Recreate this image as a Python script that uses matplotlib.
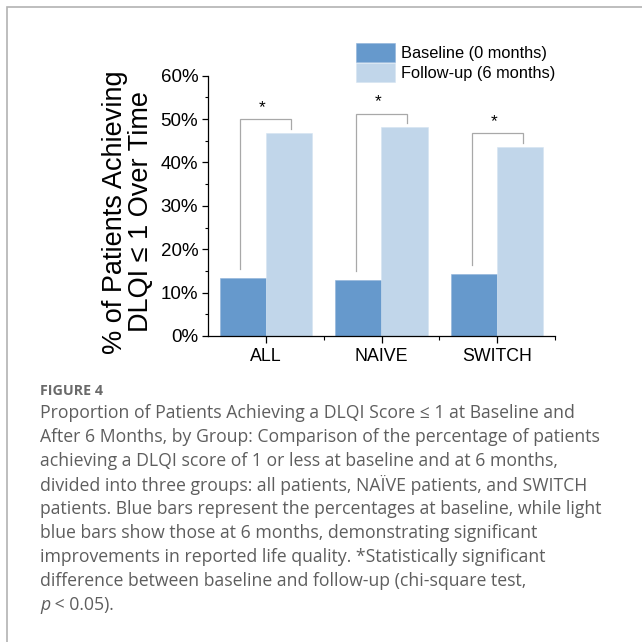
import matplotlib
matplotlib.use("Agg")
import matplotlib.pyplot as plt
from matplotlib.patches import Rectangle
from matplotlib.ticker import MultipleLocator, PercentFormatter
import numpy as np

groups = ["ALL", "NAIVE", "SWITCH"]
baseline = [13.4, 12.9, 14.4]    # % at 0 months
follow_up = [46.9, 48.1, 43.6]   # % at 6 months
series_labels = ["Baseline (0 months)", "Follow-up (6 months)"]
ylabel = "% of Patients Achieving\nDLQI \u2264 1 Over Time"

caption_title = "FIGURE 4"
caption_lines = [
    "Proportion of Patients Achieving a DLQI Score \u2264 1 at Baseline and",
    "After 6 Months, by Group: Comparison of the percentage of patients",
    "achieving a DLQI score of 1 or less at baseline and at 6 months,",
    "divided into three groups: all patients, NA\u00cfVE patients, and SWITCH",
    "patients. Blue bars represent the percentages at baseline, while light",
    "blue bars show those at 6 months, demonstrating significant",
    "improvements in reported life quality. *Statistically significant",
    "difference between baseline and follow-up (chi-square test,",
]
caption_last = " < 0.05)."

C_BASE = "#6699cc"
C_FOLLOW = "#c1d6ea"
C_BRACKET = "#a8a8a8"
C_CAPTION = "#5e5e5e"

plt.rcParams["font.family"] = ["Liberation Sans", "DejaVu Sans"]

fig = plt.figure(figsize=(6.42, 6.42), dpi=100)
W = H = 642.0

# outer panel frame (runs off the right and bottom edges)
fig.patches.append(Rectangle((7 / W, -0.1), 1.2, 1 - 7 / H + 0.1,
                             transform=fig.transFigure, fill=False,
                             edgecolor="#b3b3b3", linewidth=1.2))

ax = fig.add_axes([208 / W, 1 - 336 / H, (555 - 208) / W, (336 - 75.7) / H])

x = np.arange(len(groups))
bw = 0.4
ax.bar(x - bw / 2, baseline, bw, color=C_BASE, edgecolor="#8fb3da",
       linewidth=0.4, label=series_labels[0])
ax.bar(x + bw / 2, follow_up, bw, color=C_FOLLOW, edgecolor="#d6e4f2",
       linewidth=0.4, label=series_labels[1])

# significance brackets
for xi, b, f in zip(x, baseline, follow_up):
    top = f + 3.1
    xl, xr = xi - 0.22, xi + 0.22
    ax.plot([xl, xl, xr, xr], [b + 2.0, top, top, f + 0.9],
            color=C_BRACKET, linewidth=0.9, solid_joinstyle="miter")
    ax.text(xi - 0.03, top + 1.0, "*", ha="center", va="bottom", fontsize=12.5)

ax.set_xlim(-0.5, 2.5)
ax.set_ylim(0, 60)
ax.yaxis.set_major_locator(MultipleLocator(10))
ax.yaxis.set_minor_locator(MultipleLocator(5))
ax.yaxis.set_major_formatter(PercentFormatter(decimals=0))
ax.set_xticks(x)
ax.set_xticklabels(groups)
ax.set_xticks([0.5, 1.5, 2.5], minor=True)

for s in ["top", "right"]:
    ax.spines[s].set_visible(False)
for s in ["left", "bottom"]:
    ax.spines[s].set_linewidth(0.9)

ax.tick_params(axis="y", which="major", length=4, width=0.9, pad=3,
               labelsize=13.5)
ax.tick_params(axis="y", which="minor", length=2, width=0.8)
ax.tick_params(axis="x", which="major", length=5, width=0.9, pad=4,
               labelsize=12.8)
ax.tick_params(axis="x", which="minor", length=3, width=0.8)

fig.text(128 / W, 1 - 212 / H, ylabel, rotation=90, ha="center",
         va="center", fontsize=19.5, linespacing=1.02)

fig.legend(loc="upper left", bbox_to_anchor=(356 / W, 1 - 43 / H),
           frameon=False, fontsize=11.8, handlelength=2.4, handleheight=1.4,
           handletextpad=0.35, labelspacing=0.05, borderpad=0,
           borderaxespad=0)

# caption block
cap_font = ["Open Sans", "DejaVu Sans"]
cap_size = 12.7
fig.text(40 / W, 1 - 391 / H, caption_title, ha="left", va="center",
         fontsize=10.3, fontweight="bold", color="#6a6a6a", family=cap_font)
y0, dy = 413, 24
for i, line in enumerate(caption_lines):
    fig.text(40 / W, 1 - (y0 + i * dy) / H, line, ha="left", va="center",
             fontsize=cap_size, color=C_CAPTION, family=cap_font)
ylast = 1 - (y0 + len(caption_lines) * dy) / H
tp = fig.text(40 / W, ylast, "p", ha="left", va="center", fontsize=cap_size,
              color=C_CAPTION, family=cap_font, style="italic")
renderer = fig.canvas.get_renderer()
bb = tp.get_window_extent(renderer).transformed(fig.transFigure.inverted())
fig.text(bb.x1, ylast, caption_last, ha="left", va="center",
         fontsize=cap_size, color=C_CAPTION, family=cap_font)

fig.savefig("out.png", dpi=100)
